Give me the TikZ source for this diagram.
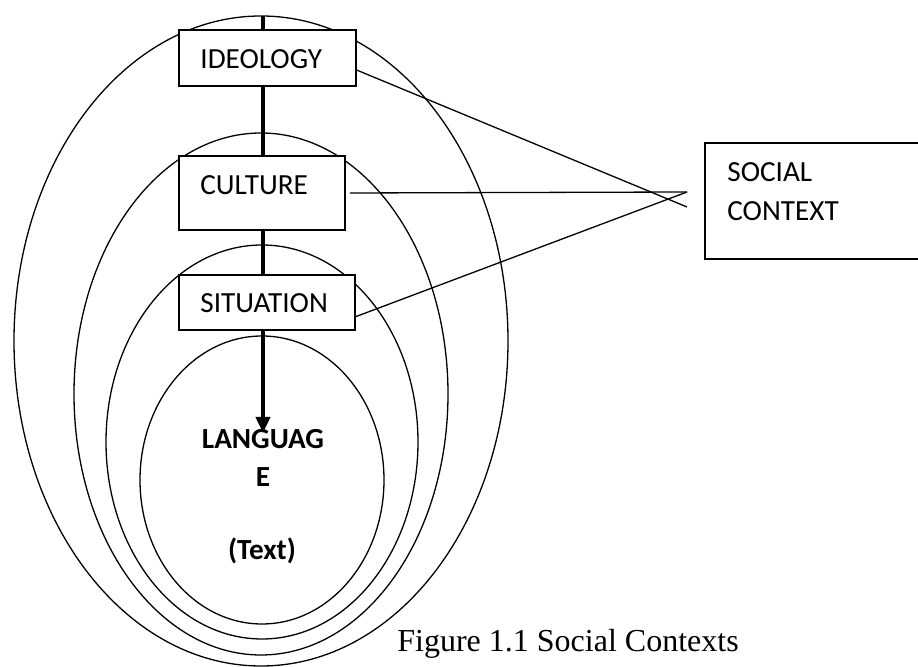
\documentclass[tikz,border=0pt]{standalone}
\usepackage{fontspec}
\setmainfont{Carlito}
\newfontfamily\capfont{Liberation Serif}
\usetikzlibrary{arrows.meta,calc}
\tikzset{
  thin line/.style={line width=0.65pt},
  ring/.style={line width=0.65pt},
  stem/.style={line width=1.8pt},
  boxnode/.style={draw, line width=0.8pt, fill=white, rectangle, inner sep=0pt},
  label text/.style={font=\fontsize{14.6pt}{17pt}\selectfont, inner sep=0pt, anchor=base west},
  lang text/.style={font=\fontsize{14.6pt}{17pt}\selectfont\bfseries, inner sep=0pt, anchor=base},
}
\begin{document}
\begin{tikzpicture}[x=0.5pt,y=-0.5pt]
\clip (0,0) rectangle (918,667);
\useasboundingbox (0,0) rectangle (918,667);
% ellipses
\draw[ring] (261,341) ellipse [x radius=247, y radius=325];
\draw[ring] (261,394) ellipse [x radius=187, y radius=261];
\draw[ring] (262,442) ellipse [x radius=156, y radius=197];
\draw[ring] (262,480) ellipse [x radius=122, y radius=144];
% top of the stem
\coordinate (top) at (263,16);
\coordinate (tip) at (263,433);
% boxes
\node[boxnode, minimum width=177*0.5pt, minimum height=56*0.5pt] (ideo) at (267.5,58) {};
\node[boxnode, minimum width=166*0.5pt, minimum height=74*0.5pt] (cult) at (262,193) {};
\node[boxnode, minimum width=176*0.5pt, minimum height=55*0.5pt] (situ) at (267,302.5) {};
\node[boxnode, minimum width=240*0.5pt, minimum height=116*0.5pt] (soc) at (825,201) {};
% stem
\draw[stem] (top) -- (top |- ideo.north);
\draw[stem] (top |- ideo.south) -- (top |- cult.north);
\draw[stem] (top |- cult.south) -- (top |- situ.north);
\draw[stem, -{Triangle[length=8pt,width=7pt]}] (top |- situ.south) -- (tip);
% texts
\node[label text] (tideo) at (200,69) {IDEOLOGY};
\node[label text] (tcult) at (200,195) {CULTURE};
\node[label text] (tsitu) at (200,313) {SITUATION};
\node[label text] (tsoc1) at (727,182) {SOCIAL};
\node[label text] (tsoc2) at (727,221) {CONTEXT};
\node[lang text] (lang1) at (263,449) {LANGUAG};
\node[lang text] (lang2) at (263,487) {E};
\node[lang text] (lang3) at (262,560) {(Text)};
\node[font=\capfont\fontsize{16pt}{19pt}\selectfont, inner sep=0pt, anchor=base west] (cap) at (397,652) {Figure 1.1 Social Contexts};
% connectors
\coordinate (m1) at (687,192);
\coordinate (m2) at (687,207);
\draw[thin line] ($(ideo.south east)!0.29!(ideo.north east)$) -- (m2);
\draw[thin line] ($(cult.east)+(4,0)$) -- (m1);
\draw[thin line] ($(situ.south east)!0.25!(situ.north east)$) -- (m1);
\end{tikzpicture}
\end{document}
